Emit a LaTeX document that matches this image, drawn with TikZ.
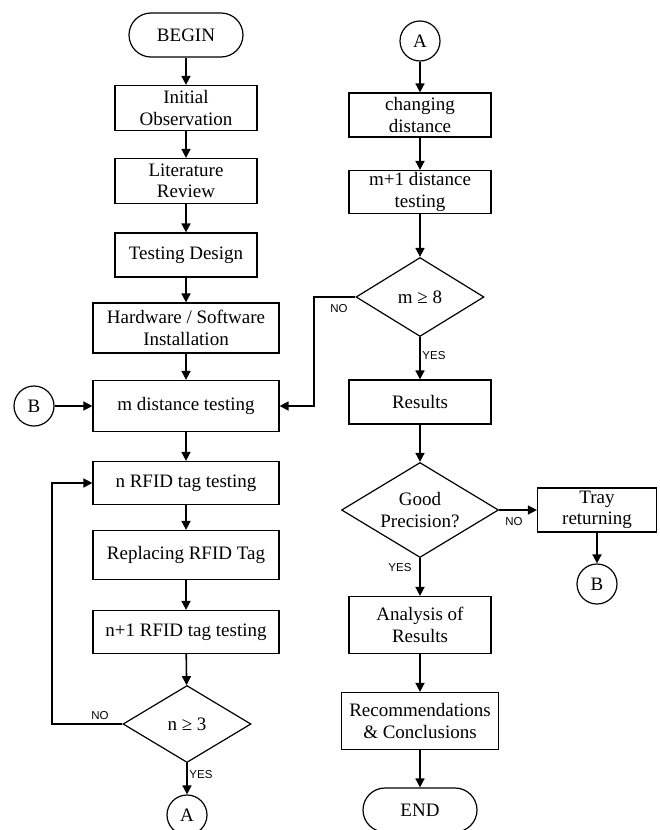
\documentclass[tikz,border=0pt]{standalone}
\usepackage{fontspec}
\setmainfont{Liberation Serif}
\newfontfamily\lblfont{Liberation Sans}
\usetikzlibrary{shapes.geometric,arrows.meta}
\begin{document}
\begin{tikzpicture}[x=1pt,y=-1pt,
  every node/.style={font=\fontsize{19}{21.5}\selectfont},
  box/.style={draw,line width=1.2pt,align=center,minimum width=142pt,inner sep=0pt},
  term/.style={draw,line width=1.2pt,rounded corners=22pt,minimum width=114pt,minimum height=44pt,inner sep=0pt},
  conn/.style={draw,line width=1.2pt,circle,minimum size=40pt,inner sep=0pt},
  dec/.style={draw,line width=1.2pt,diamond,aspect=1.6,inner sep=0pt,align=center},
  arr/.style={line width=1.6pt,-{Triangle[length=9pt,width=9pt]}},
  lbl/.style={font=\lblfont\fontsize{11.5}{12}\selectfont,inner sep=0pt}]
\useasboundingbox (0,0) rectangle (660,830);
\begin{scope}
\clip (0,0) rectangle (660,830);
% left column
\node[term] (begin) at (186,35) {BEGIN};
\node[box,minimum height=45pt] (init) at (186,108) {Initial\\Observation};
\node[box,minimum height=45pt] (lit) at (186,181) {Literature\\Review};
\node[box,minimum height=44pt] (design) at (186,255) {Testing Design};
\node[box,minimum width=186pt,minimum height=50pt] (hw) at (186,328) {Hardware / Software\\Installation};
\node[box,minimum width=186pt,minimum height=51pt] (mdist) at (186,406) {m distance testing};
\node[conn] (b1) at (34,406) {B};
\node[box,minimum width=186pt,minimum height=43pt] (nrfid) at (186,483) {n RFID tag testing};
\node[box,minimum width=186pt,minimum height=49pt] (repl) at (186,555) {Replacing RFID Tag};
\node[box,minimum width=186pt,minimum height=43pt] (n1) at (186,632) {n+1 RFID tag testing};
\node[dec,minimum width=128pt,minimum height=77pt] (d1) at (187,724) {n ≥ 3};
\node[conn] (a1) at (187,815) {A};
\coordinate (c1) at (52,724);
% right column
\node[conn] (a2) at (420,41) {A};
\node[box,minimum height=44pt] (chg) at (420,115) {changing\\distance};
\node[box,minimum height=43pt] (m1) at (420,192) {m+1 distance\\testing};
\node[dec,minimum width=128pt,minimum height=79pt] (d2) at (420,297) {m ≥ 8};
\coordinate (c2) at (314,297);
\node[box,minimum height=44pt] (res) at (420,402) {Results};
\node[dec,minimum width=157pt,minimum height=95pt] (d3) at (420,510) {Good\\Precision?};
\node[box,minimum width=119pt,minimum height=44pt] (tray) at (597,510) {Tray\\returning};
\node[conn] (b2) at (597,584) {B};
\node[box,minimum height=57pt] (ana) at (420,625) {Analysis of\\Results};
\node[box,minimum width=157pt,minimum height=57pt] (rec) at (420,721) {Recommendations\\\& Conclusions};
\node[term] (end) at (420,810) {END};
% connectors
\draw[arr] (begin) -- (init);
\draw[arr] (init) -- (lit);
\draw[arr] (lit) -- (design);
\draw[arr] (design) -- (hw);
\draw[arr] (hw) -- (mdist);
\draw[arr] (b1) -- (mdist);
\draw[arr] (mdist) -- (nrfid);
\draw[arr] (nrfid) -- (repl);
\draw[arr] (repl) -- (n1);
\draw[arr] (n1) -- (d1);
\draw[arr] (d1) -- (a1);
\draw[arr] (d1.west) -- (c1) |- (nrfid.west);
\draw[arr] (a2) -- (chg);
\draw[arr] (chg) -- (m1);
\draw[arr] (m1) -- (d2);
\draw[arr] (d2) -- (res);
\draw[arr] (d2.west) -- (c2) |- (mdist.east);
\draw[arr] (res) -- (d3);
\draw[arr] (d3.east) -- (tray.west);
\draw[arr] (tray) -- (b2);
\draw[arr] (d3) -- (ana);
\draw[arr] (ana) -- (rec);
\draw[arr] (rec) -- (end);
% labels
\node[lbl] at (100,716) {NO};
\node[lbl] at (201,775) {YES};
\node[lbl] at (339,309) {NO};
\node[lbl] at (434,356) {YES};
\node[lbl] at (514,522) {NO};
\node[lbl] at (400,568) {YES};
\end{scope}
\end{tikzpicture}
\end{document}
